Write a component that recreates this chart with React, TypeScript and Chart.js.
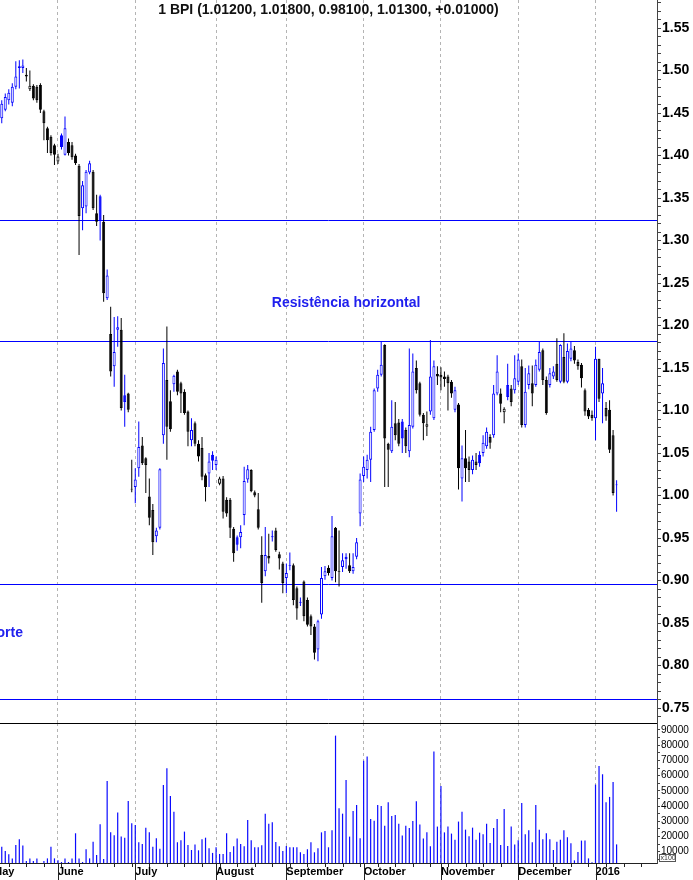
import React, { useEffect, useRef } from 'react';
import { Chart, registerables } from 'chart.js';

Chart.register(...registerables);

const FONT = '"Liberation Sans", Arial, Helvetica, sans-serif';
const BLUE = '#0000ff';
const BLACK = '#000000';
const GRID = '#b4b4b4';
const LEVEL = '#0000ff';
const NOTE = '#2020ee';
const VOL = '#0a0aff';

const titleText = '1 BPI (1.01200, 1.01800, 0.98100, 1.01300, +0.01000)';

const opens = [
  1.444, 1.454, 1.465, 1.462, 1.481, 1.503, 1.503, 1.495, 1.478, 1.482,
  1.481, 1.483, 1.452, 1.432, 1.422, 1.412, 1.393, 1.424, 1.401, 1.416,
  1.412, 1.400, 1.388, 1.338, 1.340, 1.380, 1.381, 1.332, 1.352, 1.322,
  1.232, 1.190, 1.152, 1.195, 1.195, 1.118, 1.120, 1.008, 1.010, 1.032,
  1.059, 1.044, 0.999, 0.983, 0.952, 0.962, 1.071, 1.136, 1.111, 1.131,
  1.146, 1.132, 1.122, 1.099, 1.065, 1.085, 1.061, 1.056, 1.024, 1.026,
  1.048, 1.036, 1.014, 1.020, 0.995, 0.995, 0.961, 0.951, 0.951, 0.977,
  1.019, 1.030, 1.004, 0.984, 0.930, 0.911, 0.929, 0.951, 0.959, 0.931,
  0.920, 0.903, 0.917, 0.918, 0.891, 0.874, 0.899, 0.877, 0.858, 0.846,
  0.819, 0.860, 0.905, 0.915, 0.903, 0.962, 0.911, 0.916, 0.928, 0.918,
  0.911, 0.928, 0.979, 1.023, 1.030, 1.042, 1.077, 1.126, 1.142, 1.177,
  1.061, 1.052, 1.085, 1.086, 1.087, 1.077, 1.052, 1.081, 1.150, 1.132,
  1.095, 1.081, 1.099, 1.091, 1.143, 1.142, 1.140, 1.140, 1.134, 1.101,
  1.107, 1.020, 1.044, 1.040, 1.030, 1.040, 1.048, 1.050, 1.058, 1.069,
  1.071, 1.120, 1.120, 1.098, 1.130, 1.126, 1.124, 1.134, 1.152, 1.083,
  1.130, 1.132, 1.130, 1.148, 1.171, 1.136, 1.130, 1.140, 1.155, 1.134,
  1.163, 1.134, 1.161, 1.171, 1.157, 1.154, 1.124, 1.101, 1.095, 1.091,
  1.161, 1.120, 1.103, 1.101, 1.071, 1.012,
];

const highs = [
  1.465, 1.473, 1.478, 1.485, 1.511, 1.512, 1.513, 1.503, 1.500, 1.484,
  1.483, 1.485, 1.454, 1.434, 1.424, 1.414, 1.402, 1.426, 1.446, 1.420,
  1.416, 1.402, 1.390, 1.370, 1.383, 1.394, 1.383, 1.354, 1.354, 1.330,
  1.266, 1.222, 1.210, 1.211, 1.209, 1.142, 1.121, 1.042, 1.032, 1.087,
  1.069, 1.045, 1.020, 0.990, 0.962, 1.032, 1.173, 1.199, 1.124, 1.142,
  1.148, 1.134, 1.125, 1.100, 1.091, 1.087, 1.065, 1.069, 1.026, 1.050,
  1.052, 1.046, 1.022, 1.023, 0.998, 0.997, 0.963, 0.953, 0.965, 1.034,
  1.036, 1.031, 1.006, 1.003, 0.952, 0.963, 0.955, 0.959, 0.962, 0.934,
  0.922, 0.920, 0.933, 0.920, 0.893, 0.880, 0.900, 0.880, 0.860, 0.849,
  0.854, 0.916, 0.917, 0.918, 0.976, 0.963, 0.959, 0.932, 0.932, 0.932,
  0.932, 0.950, 1.026, 1.046, 1.048, 1.081, 1.126, 1.148, 1.181, 1.178,
  1.062, 1.112, 1.110, 1.090, 1.090, 1.080, 1.173, 1.167, 1.159, 1.134,
  1.097, 1.099, 1.183, 1.159, 1.152, 1.151, 1.146, 1.142, 1.136, 1.128,
  1.109, 1.059, 1.077, 1.046, 1.047, 1.050, 1.052, 1.071, 1.080, 1.072,
  1.130, 1.165, 1.126, 1.104, 1.155, 1.130, 1.165, 1.167, 1.160, 1.150,
  1.153, 1.153, 1.160, 1.181, 1.173, 1.140, 1.150, 1.152, 1.185, 1.178,
  1.191, 1.179, 1.181, 1.176, 1.160, 1.156, 1.126, 1.103, 1.100, 1.175,
  1.161, 1.150, 1.110, 1.112, 1.077, 1.018,
];

const lows = [
  1.438, 1.452, 1.460, 1.458, 1.478, 1.479, 1.497, 1.487, 1.476, 1.465,
  1.462, 1.450, 1.418, 1.403, 1.400, 1.389, 1.390, 1.407, 1.400, 1.400,
  1.395, 1.389, 1.283, 1.312, 1.332, 1.378, 1.336, 1.317, 1.300, 1.228,
  1.230, 1.140, 1.128, 1.175, 1.100, 1.081, 1.098, 1.004, 0.991, 1.022,
  1.036, 1.003, 0.965, 0.930, 0.945, 0.960, 1.061, 1.042, 1.075, 1.122,
  1.118, 1.097, 1.095, 1.058, 1.058, 1.058, 1.040, 1.018, 0.993, 1.010,
  1.030, 1.030, 1.012, 0.973, 0.975, 0.950, 0.922, 0.935, 0.938, 0.965,
  1.015, 1.004, 0.998, 0.960, 0.874, 0.905, 0.920, 0.946, 0.934, 0.913,
  0.885, 0.885, 0.912, 0.871, 0.854, 0.870, 0.852, 0.846, 0.836, 0.807,
  0.805, 0.855, 0.901, 0.906, 0.900, 0.898, 0.893, 0.910, 0.914, 0.909,
  0.908, 0.925, 0.964, 1.016, 1.020, 1.016, 1.075, 1.122, 1.140, 1.010,
  1.010, 1.050, 1.065, 1.058, 1.050, 1.050, 1.045, 1.079, 1.120, 1.093,
  1.065, 1.070, 1.095, 1.089, 1.130, 1.124, 1.128, 1.100, 1.115, 1.098,
  1.007, 0.993, 1.016, 1.016, 1.025, 1.030, 1.034, 1.046, 1.055, 1.055,
  1.068, 1.118, 1.098, 1.085, 1.112, 1.105, 1.120, 1.130, 1.080, 1.080,
  1.125, 1.105, 1.128, 1.146, 1.130, 1.095, 1.127, 1.137, 1.134, 1.132,
  1.132, 1.132, 1.158, 1.155, 1.148, 1.127, 1.094, 1.090, 1.088, 1.065,
  1.110, 1.085, 1.088, 1.050, 1.000, 0.981,
];

const closes = [
  1.461, 1.469, 1.474, 1.481, 1.493, 1.505, 1.506, 1.493, 1.482, 1.467,
  1.465, 1.454, 1.438, 1.418, 1.403, 1.401, 1.399, 1.410, 1.432, 1.403,
  1.398, 1.391, 1.329, 1.365, 1.381, 1.391, 1.338, 1.322, 1.323, 1.238,
  1.259, 1.146, 1.169, 1.198, 1.103, 1.110, 1.101, 1.007, 1.019, 1.057,
  1.038, 1.036, 0.974, 0.945, 0.959, 1.031, 1.156, 1.081, 1.078, 1.141,
  1.122, 1.120, 1.097, 1.075, 1.077, 1.061, 1.046, 1.022, 1.010, 1.040,
  1.041, 1.042, 1.020, 0.981, 0.979, 0.962, 0.932, 0.942, 0.957, 1.017,
  1.031, 1.005, 1.000, 0.962, 0.897, 0.930, 0.926, 0.952, 0.936, 0.926,
  0.897, 0.909, 0.918, 0.877, 0.867, 0.875, 0.858, 0.848, 0.846, 0.815,
  0.852, 0.903, 0.911, 0.909, 0.952, 0.911, 0.910, 0.924, 0.925, 0.911,
  0.916, 0.945, 1.019, 1.034, 1.042, 1.075, 1.124, 1.142, 1.154, 1.067,
  1.054, 1.081, 1.071, 1.061, 1.067, 1.058, 1.083, 1.146, 1.124, 1.095,
  1.085, 1.084, 1.140, 1.152, 1.140, 1.139, 1.137, 1.132, 1.120, 1.124,
  1.032, 1.044, 1.032, 1.030, 1.042, 1.036, 1.038, 1.062, 1.075, 1.062,
  1.120, 1.146, 1.108, 1.102, 1.116, 1.110, 1.138, 1.160, 1.083, 1.122,
  1.144, 1.120, 1.154, 1.169, 1.136, 1.097, 1.144, 1.146, 1.136, 1.177,
  1.134, 1.170, 1.173, 1.159, 1.152, 1.138, 1.099, 1.093, 1.091, 1.161,
  1.114, 1.132, 1.093, 1.054, 1.003, 1.013,
];

// volume in thousands (axis shows units x100)
const volumeK = [
  13.3, 10.5, 8.3, 5.6, 14.4, 18.1, 14.0, 3.9, 5.6, 3.9,
  5.6, 2.0, 3.9, 5.6, 13.3, 5.6, 4.3, 3.2, 5.6, 3.2,
  5.6, 22.1, 5.6, 3.2, 11.6, 5.6, 16.6, 7.8, 28.0, 5.2,
  56.5, 22.7, 20.8, 35.7, 19.9, 19.2, 43.3, 28.7, 27.6, 16.2,
  15.1, 25.8, 22.7, 13.3, 18.8, 12.0, 53.9, 64.8, 46.6, 36.3,
  16.2, 17.5, 23.2, 14.4, 11.1, 14.8, 10.9, 18.1, 19.2, 12.2,
  9.2, 12.9, 8.5, 8.5, 22.1, 9.8, 13.5, 18.6, 15.1, 13.5,
  30.9, 17.5, 12.9, 12.9, 14.2, 35.0, 28.4, 29.3, 16.4, 13.5,
  10.5, 13.8, 12.9, 12.9, 12.9, 9.6, 8.5, 11.6, 16.2, 9.6,
  12.2, 22.7, 23.6, 12.9, 24.1, 86.3, 38.5, 35.0, 57.1,
  19.9, 36.8, 40.7, 18.8, 69.7, 72.5, 31.5, 30.4, 40.7, 40.1,
  27.1, 42.5, 33.5, 34.1, 28.4, 20.6, 27.1, 25.6, 30.2, 43.1,
  27.8, 18.6, 22.7, 13.5, 75.8, 26.5, 53.2, 22.7, 26.5, 21.9,
  17.9, 29.8, 36.3, 24.5, 20.1, 25.8, 17.9, 22.5, 21.4, 28.4,
  15.7, 25.6, 31.5, 14.4, 38.1, 13.8, 26.5, 14.8, 17.5, 42.0,
  21.4, 24.1, 16.2, 40.7, 24.5, 18.1, 22.1, 18.1, 11.1, 16.6,
  17.9, 24.1, 19.5, 15.5, 4.3, 9.8, 17.3, 17.3, 5.6, 3.0,
  54.1, 66.4, 60.9, 42.5, 46.0, 55.8, 14.8,
];

const slotCount = 187; // trading-day slots on the time axis (incl. empty future)
const monthStarts = [16, 38, 61, 81, 103, 125, 147, 169];
const monthNames = ['June', 'July', 'August', 'September', 'October', 'November', 'December', '2016'];
const firstMonthName = 'May';
const levels = [1.3242, 1.1818, 0.8959, 0.7603];
const noteTexts = ['Resistência horizontal', 'Suporte'];
const noteSlots = [98, 6.05];
const notePrices = [1.2265, 0.8383];
const noteAligns = ['center', 'right'];

const priceMin = 0.7324;
const priceMax = 1.583;
const priceTickStep = 0.01;
const volMin = 2560;
const volMax = 94600;
const volTickValues = [5000, 10000, 15000, 20000, 25000, 30000, 35000, 40000, 45000, 50000, 55000, 60000, 65000, 70000, 75000, 80000, 85000, 90000];

// ---- derived tables for the library ----
const slotLabels = Array.from({ length: slotCount }, (_, i) => String(i));
const candleColor = closes.map((c, i) => (i === 0 || c >= closes[i - 1] ? BLUE : BLACK));
const bodies = opens.map((o, i) => [Math.min(o, closes[i]), Math.max(o, closes[i])]);
const bodyFill = closes.map((c, i) => (c > opens[i] ? '#ffffff' : candleColor[i]));
const wicks = lows.map((l, i) => [l, highs[i]]);
const volumes = volumeK.map((v) => v * 1000);
const monthLabelAt = (i: number) => {
  const k = monthStarts.indexOf(i);
  return k >= 0 ? monthNames[k] : '';
};
const gridColor = (ctx: any) => (monthStarts.includes(ctx.index) ? GRID : 'rgba(0,0,0,0)');
const noPad = (s: any) => {
  s.paddingTop = 0;
  s.paddingBottom = 0;
  s.paddingLeft = 0;
  s.paddingRight = 0;
};

const pricePlugin = {
  id: 'priceOverlay',
  beforeDatasetsDraw(chart: any) {
    const { ctx, chartArea: a, scales } = chart;
    ctx.save();
    ctx.setLineDash([]);
    ctx.strokeStyle = LEVEL;
    ctx.lineWidth = 1;
    levels.forEach((v) => {
      const y = Math.round(scales.y.getPixelForValue(v)) + 0.5;
      ctx.beginPath();
      ctx.moveTo(a.left, y);
      ctx.lineTo(a.right, y);
      ctx.stroke();
    });
    ctx.restore();
  },
  afterDraw(chart: any) {
    const { ctx, chartArea: a, scales } = chart;
    ctx.save();
    ctx.font = `bold 14px ${FONT}`;
    ctx.textBaseline = 'middle';
    ctx.textAlign = 'center';
    ctx.fillStyle = '#111111';
    ctx.fillText(titleText, (a.left + a.right) / 2, 10);
    ctx.fillStyle = NOTE;
    noteTexts.forEach((t, i) => {
      ctx.textAlign = noteAligns[i];
      ctx.fillText(t, scales.x.getPixelForValue(noteSlots[i]), scales.y.getPixelForValue(notePrices[i]));
    });
    ctx.restore();
  },
};

const volumePlugin = {
  id: 'volumeOverlay',
  afterDraw(chart: any) {
    const { ctx, chartArea: a, scales, height } = chart;
    const x = scales.x;
    ctx.save();
    ctx.setLineDash([]);
    ctx.strokeStyle = '#000';
    ctx.lineWidth = 1;
    ctx.beginPath();
    ctx.moveTo(a.left, a.top + 0.5);
    ctx.lineTo(a.right, a.top + 0.5);
    ctx.stroke();
    ctx.strokeStyle = '#222';
    ctx.beginPath();
    ctx.moveTo(a.left, a.bottom + 0.5);
    ctx.lineTo(a.right, a.bottom + 0.5);
    ctx.stroke();
    for (let k = 0; k < slotCount; k++) {
      const isMonth = monthStarts.includes(k);
      if (!isMonth && k % 5 !== 2) continue;
      const px = Math.round(x.getPixelForValue(k)) + 0.5;
      ctx.beginPath();
      ctx.moveTo(px, a.bottom);
      ctx.lineTo(px, isMonth ? height : a.bottom + 4);
      ctx.stroke();
    }
    const step = x.getPixelForValue(1) - x.getPixelForValue(0);
    ctx.font = `bold 11px ${FONT}`;
    ctx.fillStyle = '#000';
    ctx.textAlign = 'left';
    ctx.textBaseline = 'middle';
    ctx.fillText(firstMonthName, x.getPixelForValue(0) - 2.5 * step, a.bottom + 8.6);
    // multiplier box
    ctx.font = `7px ${FONT}`;
    ctx.fillStyle = '#333';
    ctx.strokeStyle = '#555';
    ctx.strokeRect(a.right + 2.5, a.bottom - 8.5, 16, 7);
    ctx.fillText('x100', a.right + 3.5, a.bottom - 5);
    ctx.restore();
  },
};

export default function App() {
  const priceRef = useRef<HTMLCanvasElement>(null);
  const volRef = useRef<HTMLCanvasElement>(null);

  useEffect(() => {
    const common: any = {
      responsive: false,
      maintainAspectRatio: false,
      animation: false,
      devicePixelRatio: 1,
      events: [],
      layout: { padding: 0 },
      plugins: { legend: { display: false }, tooltip: { enabled: false }, title: { display: false } },
    };

    const priceChart = new Chart(priceRef.current as HTMLCanvasElement, {
      type: 'bar',
      data: {
        labels: slotLabels,
        datasets: [
          {
            label: 'body',
            data: bodies as any,
            backgroundColor: bodyFill,
            borderColor: candleColor,
            borderWidth: 1,
            borderSkipped: false,
            barThickness: 3,
            grouped: false,
            inflateAmount: 0,
          } as any,
          {
            label: 'wick',
            data: wicks as any,
            backgroundColor: candleColor,
            borderWidth: 0,
            barThickness: 1,
            grouped: false,
            inflateAmount: 0,
          } as any,
        ],
      },
      options: {
        ...common,
        scales: {
          x: {
            type: 'category',
            offset: true,
            afterFit: (s: any) => {
              s.height = 0;
              noPad(s);
            },
            ticks: { display: false },
            grid: { offset: false, drawTicks: false, color: gridColor, lineWidth: 1 },
            border: { display: false, dash: [3, 3] },
          },
          y: {
            position: 'right',
            min: priceMin,
            max: priceMax,
            afterFit: (s: any) => {
              s.width = 36;
              noPad(s);
            },
            border: { display: true, color: '#444', width: 1 },
            grid: { drawOnChartArea: false, drawTicks: true, tickLength: 4, color: '#444' },
            ticks: {
              stepSize: priceTickStep,
              autoSkip: false,
              includeBounds: false,
              padding: 1,
              color: '#000',
              font: { family: FONT, size: 14, weight: 'bold' },
              callback: (v: any) => {
                const r = Math.round(Number(v) * 100);
                return r % 5 === 0 ? (r / 100).toFixed(2) : '';
              },
            },
          },
        },
      },
      plugins: [pricePlugin],
    } as any);

    const volumeChart = new Chart(volRef.current as HTMLCanvasElement, {
      type: 'bar',
      data: {
        labels: slotLabels,
        datasets: [
          {
            label: 'volume',
            data: volumes,
            backgroundColor: VOL,
            borderWidth: 0,
            barThickness: 1.2,
            inflateAmount: 0,
          } as any,
        ],
      },
      options: {
        ...common,
        scales: {
          x: {
            type: 'category',
            offset: true,
            afterFit: (s: any) => {
              s.height = 17;
              noPad(s);
            },
            ticks: {
              autoSkip: false,
              maxRotation: 0,
              minRotation: 0,
              align: 'start',
              padding: 2,
              color: '#000',
              font: { family: FONT, size: 11, weight: 'bold' },
              callback: (_v: any, i: number) => monthLabelAt(i),
            },
            grid: { offset: false, drawTicks: false, color: gridColor, lineWidth: 1 },
            border: { display: false, dash: [3, 3] },
          },
          y: {
            display: true,
            position: 'right',
            min: volMin,
            max: volMax,
            afterBuildTicks: (s: any) => {
              s.ticks = volTickValues.map((v) => ({ value: v }));
            },
            afterFit: (s: any) => {
              s.width = 36;
              noPad(s);
            },
            border: { display: true, color: '#444', width: 1 },
            grid: { drawOnChartArea: false, drawTicks: true, tickLength: 3, color: '#444' },
            ticks: {
              display: true,
              autoSkip: false,
              padding: 1,
              color: '#000',
              font: { family: FONT, size: 10 },
              callback: (v: any) => {
                const r = Math.round(Number(v));
                return r % 10000 === 0 ? String(r) : '';
              },
            },
          },
        },
      },
      plugins: [volumePlugin],
    } as any);

    return () => {
      priceChart.destroy();
      volumeChart.destroy();
    };
  }, []);

  return (
    <div style={{ position: 'absolute', left: 0, top: 0, width: 693, height: 880, background: '#ffffff' }}>
      <canvas
        ref={priceRef}
        width={693}
        height={723}
        style={{ position: 'absolute', left: 0, top: 0, width: 693, height: 723 }}
      />
      <canvas
        ref={volRef}
        width={693}
        height={157}
        style={{ position: 'absolute', left: 0, top: 723, width: 693, height: 157 }}
      />
    </div>
  );
}
